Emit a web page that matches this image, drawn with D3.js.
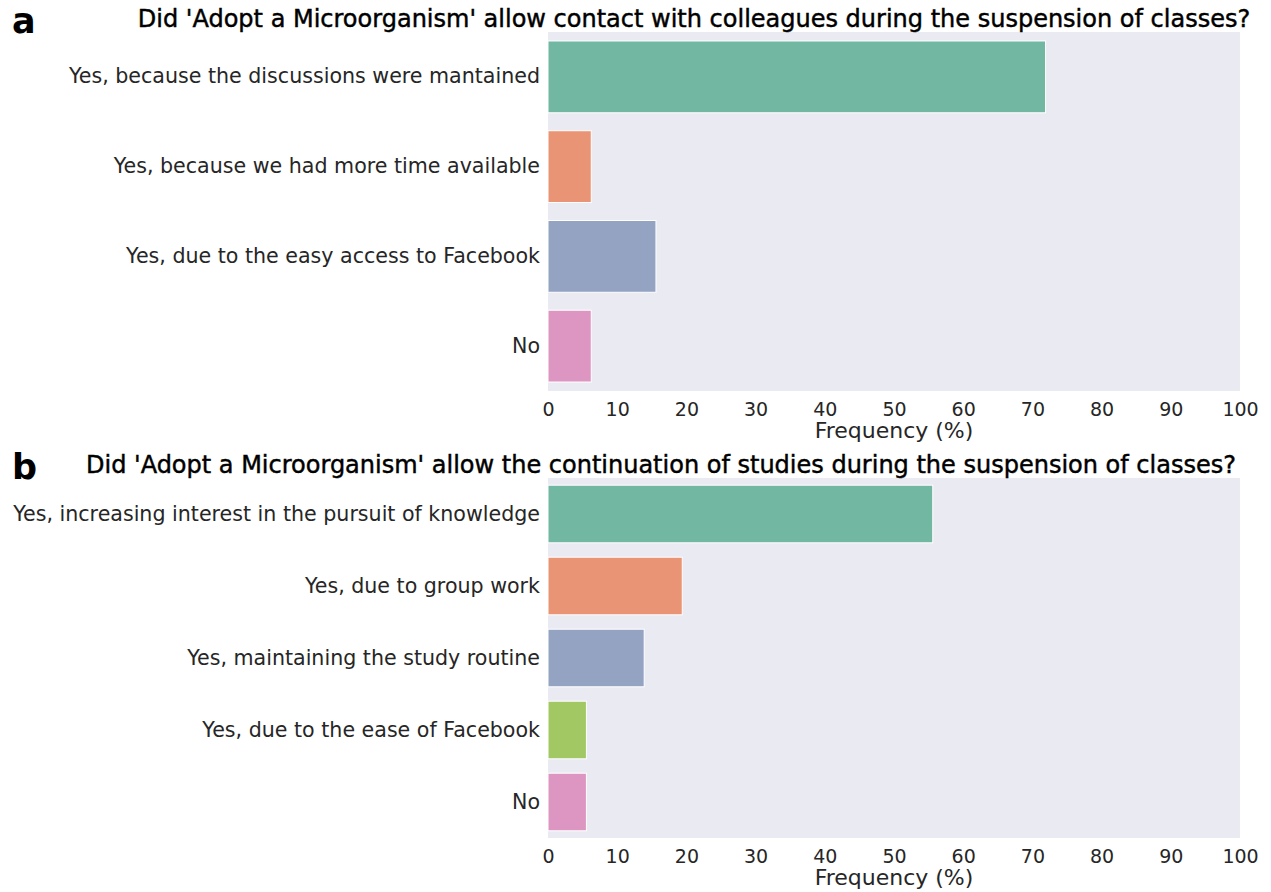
<!DOCTYPE html>
<html>
<head>
<meta charset="utf-8">
<title>Adopt a Microorganism survey</title>
<style>
  body { margin: 0; background: #fff; }
  text { font-family: "DejaVu Sans", sans-serif; }
</style>
</head>
<body>
<svg width="1271" height="892"></svg>
<script src="https://d3js.org/d3.v7.min.js"></script>
<script>

// survey answers, frequency in percent
var questionA = "Did 'Adopt a Microorganism' allow contact with colleagues during the suspension of classes?";
var answersA = ["Yes, because the discussions were mantained",
                "Yes, because we had more time available",
                "Yes, due to the easy access to Facebook",
                "No"];
var freqA = [71.9, 6.25, 15.6, 6.25];

var questionB = "Did 'Adopt a Microorganism' allow the continuation of studies during the suspension of classes?";
var answersB = ["Yes, increasing interest in the pursuit of knowledge",
                "Yes, due to group work",
                "Yes, maintaining the study routine",
                "Yes, due to the ease of Facebook",
                "No"];
var freqB = [55.6, 19.4, 13.9, 5.55, 5.55];

var xTicks = [0, 10, 20, 30, 40, 50, 60, 70, 80, 90, 100];

// Set2, desaturated the way seaborn does it
var green = "#71b7a1", orange = "#e99575", blue = "#95a3c3",
    lime = "#a2c864", pink = "#dc96c1";

var svg = d3.select("svg");

function panel(opt) {
  var x = d3.scaleLinear()
      .domain([0, 100])
      .range([opt.left, opt.right]);

  var y = d3.scaleBand()
      .domain(opt.answers)
      .range([opt.top, opt.bottom])
      .paddingInner(0.2)
      .paddingOuter(0.1);

  var g = svg.append("g");

  g.append("rect")
      .attr("x", opt.left)
      .attr("y", opt.top)
      .attr("width", opt.right - opt.left)
      .attr("height", opt.bottom - opt.top)
      .attr("fill", "#eaeaf2");

  g.selectAll(".bar")
    .data(opt.freq)
    .enter().append("rect")
      .attr("class", "bar")
      .attr("x", x(0))
      .attr("y", function(d, i) { return y(opt.answers[i]); })
      .attr("width", function(d) { return x(d) - x(0); })
      .attr("height", y.bandwidth())
      .attr("fill", function(d, i) { return opt.colors[i]; })
      .attr("stroke", "#fff")
      .attr("stroke-width", 1);

  var xa = g.append("g")
      .attr("transform", "translate(0," + opt.bottom + ")")
      .call(d3.axisBottom(x).tickValues(xTicks).tickSize(0).tickPadding(12));
  xa.select(".domain").remove();
  xa.selectAll("text")
      .attr("fill", "#262626")
      .style("font-size", "19px");

  var ya = g.append("g")
      .attr("transform", "translate(" + opt.left + ",0)")
      .call(d3.axisLeft(y).tickSize(0).tickPadding(8));
  ya.select(".domain").remove();
  ya.selectAll("text")
      .attr("fill", "#262626")
      .style("font-size", "20.6px");

  g.append("text")
      .attr("x", (opt.left + opt.right) / 2)
      .attr("y", opt.bottom + 47)
      .attr("text-anchor", "middle")
      .attr("fill", "#262626")
      .style("font-size", "22px")
      .text("Frequency (%)");

  // title looks a touch heavier than book weight in the original
  g.append("text")
      .attr("x", opt.titleX)
      .attr("y", opt.top - 5)
      .attr("text-anchor", "middle")
      .attr("fill", "#000")
      .attr("stroke", "#000")
      .attr("stroke-width", 0.45)
      .style("font-size", "24px")
      .text(opt.question);

  g.append("text")
      .attr("x", 12)
      .attr("y", opt.top + 1)
      .attr("fill", "#000")
      .attr("font-weight", "bold")
      .style("font-size", "35px")
      .text(opt.letter);
}

panel({
  letter: "a", question: questionA, answers: answersA, freq: freqA,
  colors: [green, orange, blue, pink],
  left: 548, right: 1240, top: 32, bottom: 391, titleX: 694
});

panel({
  letter: "b", question: questionB, answers: answersB, freq: freqB,
  colors: [green, orange, blue, lime, pink],
  left: 548, right: 1240, top: 478, bottom: 838, titleX: 661
});

</script>
</body>
</html>
